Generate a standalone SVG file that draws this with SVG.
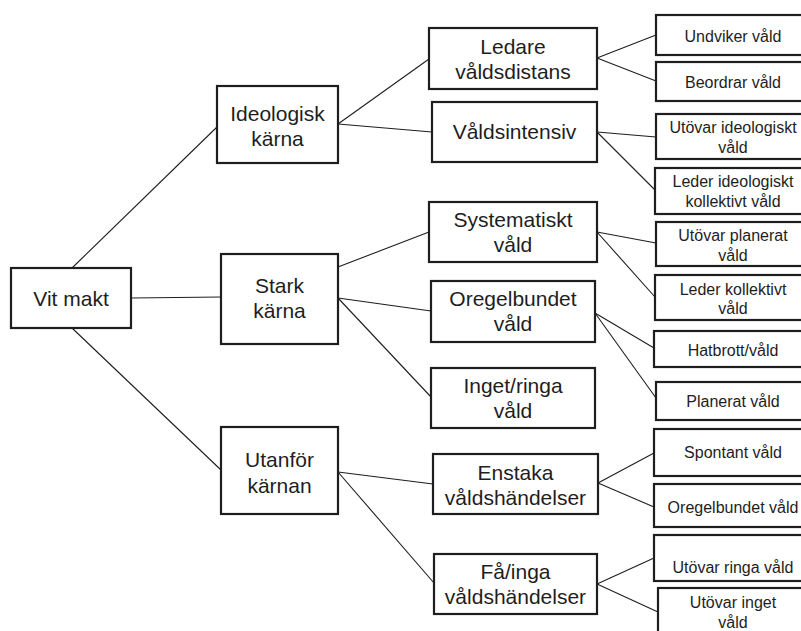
<svg xmlns="http://www.w3.org/2000/svg" width="801" height="631" viewBox="0 0 801 631">
<style>
.b{fill:#fff;stroke:#1e1e1e;stroke-width:2.2}
.t{font-family:"Liberation Sans",Arial,sans-serif;fill:#1e1e1e;text-anchor:middle}
.l1{font-size:21px}
.l3{font-size:16px}
#connectors line{stroke:#1e1e1e;stroke-width:1.1}
</style>
<rect width="801" height="631" fill="#fff"/>
<g id="connectors">
<line x1="72" y1="268" x2="217" y2="127"/>
<line x1="131" y1="298" x2="221" y2="297"/>
<line x1="72" y1="328" x2="221" y2="470"/>
<line x1="338" y1="124" x2="429" y2="59"/>
<line x1="338" y1="124" x2="432" y2="132"/>
<line x1="338" y1="267" x2="429" y2="232"/>
<line x1="338" y1="298" x2="431" y2="311"/>
<line x1="338" y1="298" x2="431" y2="397"/>
<line x1="338" y1="472" x2="433" y2="484"/>
<line x1="338" y1="472" x2="434" y2="583"/>
<line x1="597" y1="58" x2="656" y2="35"/>
<line x1="597" y1="58" x2="656" y2="81"/>
<line x1="597" y1="132" x2="656" y2="137"/>
<line x1="597" y1="132" x2="655" y2="190"/>
<line x1="597" y1="232" x2="656" y2="243"/>
<line x1="597" y1="232" x2="655" y2="297"/>
<line x1="595" y1="313" x2="654" y2="348"/>
<line x1="595" y1="313" x2="656" y2="398"/>
<line x1="598" y1="483" x2="654" y2="453"/>
<line x1="598" y1="483" x2="654" y2="507"/>
<line x1="597" y1="584" x2="654" y2="558"/>
<line x1="597" y1="584" x2="658" y2="612"/>
</g>
<g id="vit-makt"><rect class="b" x="11" y="268" width="120" height="60"/><text class="t l1" x="71" y="306">Vit makt</text></g>
<g id="ideologisk-karna"><rect class="b" x="217" y="86" width="121" height="77"/><text class="t l1" x="277.5" y="121">Ideologisk</text><text class="t l1" x="277.5" y="146">kärna</text></g>
<g id="stark-karna"><rect class="b" x="221" y="254" width="117" height="90"/><text class="t l1" x="279.5" y="293">Stark</text><text class="t l1" x="279.5" y="318">kärna</text></g>
<g id="utanfor-karnan"><rect class="b" x="221" y="427" width="117" height="87"/><text class="t l1" x="279.5" y="467">Utanför</text><text class="t l1" x="279.5" y="493">kärnan</text></g>
<g id="ledare"><rect class="b" x="429" y="28" width="168" height="61"/><text class="t l1" x="513" y="54">Ledare</text><text class="t l1" x="513" y="79">våldsdistans</text></g>
<g id="valdsintensiv"><rect class="b" x="432" y="102" width="165" height="60"/><text class="t l1" x="514.5" y="139">Våldsintensiv</text></g>
<g id="systematiskt"><rect class="b" x="429" y="202" width="168" height="60"/><text class="t l1" x="513" y="227">Systematiskt</text><text class="t l1" x="513" y="252">våld</text></g>
<g id="oregelbundet"><rect class="b" x="431" y="281" width="164" height="61"/><text class="t l1" x="513" y="306">Oregelbundet</text><text class="t l1" x="513" y="331">våld</text></g>
<g id="inget-ringa"><rect class="b" x="431" y="368" width="164" height="60"/><text class="t l1" x="513" y="393">Inget/ringa</text><text class="t l1" x="513" y="418">våld</text></g>
<g id="enstaka"><rect class="b" x="433" y="454" width="165" height="60"/><text class="t l1" x="515.5" y="480">Enstaka</text><text class="t l1" x="515.5" y="505">våldshändelser</text></g>
<g id="fa-inga"><rect class="b" x="434" y="554" width="163" height="60"/><text class="t l1" x="515.5" y="579">Få/inga</text><text class="t l1" x="515.5" y="604">våldshändelser</text></g>
<g id="undviker"><rect class="b" x="656" y="15" width="154" height="40"/><text class="t l3" x="733" y="42">Undviker våld</text></g>
<g id="beordrar"><rect class="b" x="656" y="62" width="154" height="39"/><text class="t l3" x="733" y="88">Beordrar våld</text></g>
<g id="utovar-ideologiskt"><rect class="b" x="656" y="114" width="154" height="45"/><text class="t l3" x="733" y="133">Utövar ideologiskt</text><text class="t l3" x="733" y="153">våld</text></g>
<g id="leder-ideologiskt"><rect class="b" x="655" y="168" width="155" height="46"/><text class="t l3" x="733" y="187">Leder ideologiskt</text><text class="t l3" x="733" y="207">kollektivt våld</text></g>
<g id="utovar-planerat"><rect class="b" x="656" y="222" width="154" height="44"/><text class="t l3" x="733" y="241">Utövar planerat</text><text class="t l3" x="733" y="261">våld</text></g>
<g id="leder-kollektivt"><rect class="b" x="655" y="275" width="155" height="45"/><text class="t l3" x="733" y="295">Leder kollektivt</text><text class="t l3" x="733" y="314">våld</text></g>
<g id="hatbrott"><rect class="b" x="654" y="331" width="156" height="36"/><text class="t l3" x="733" y="356">Hatbrott/våld</text></g>
<g id="planerat"><rect class="b" x="656" y="382" width="154" height="38"/><text class="t l3" x="733" y="407">Planerat våld</text></g>
<g id="spontant"><rect class="b" x="654" y="429" width="156" height="47"/><text class="t l3" x="733" y="458">Spontant våld</text></g>
<g id="oregelbundet-vald"><rect class="b" x="654" y="484" width="156" height="43"/><text class="t l3" x="733" y="513">Oregelbundet våld</text></g>
<g id="utovar-ringa"><rect class="b" x="654" y="535" width="156" height="46"/><text class="t l3" x="733" y="573">Utövar ringa våld</text></g>
<g id="utovar-inget"><rect class="b" x="658" y="588" width="152" height="50"/><text class="t l3" x="733" y="608">Utövar inget</text><text class="t l3" x="733" y="628">våld</text></g>
</svg>
